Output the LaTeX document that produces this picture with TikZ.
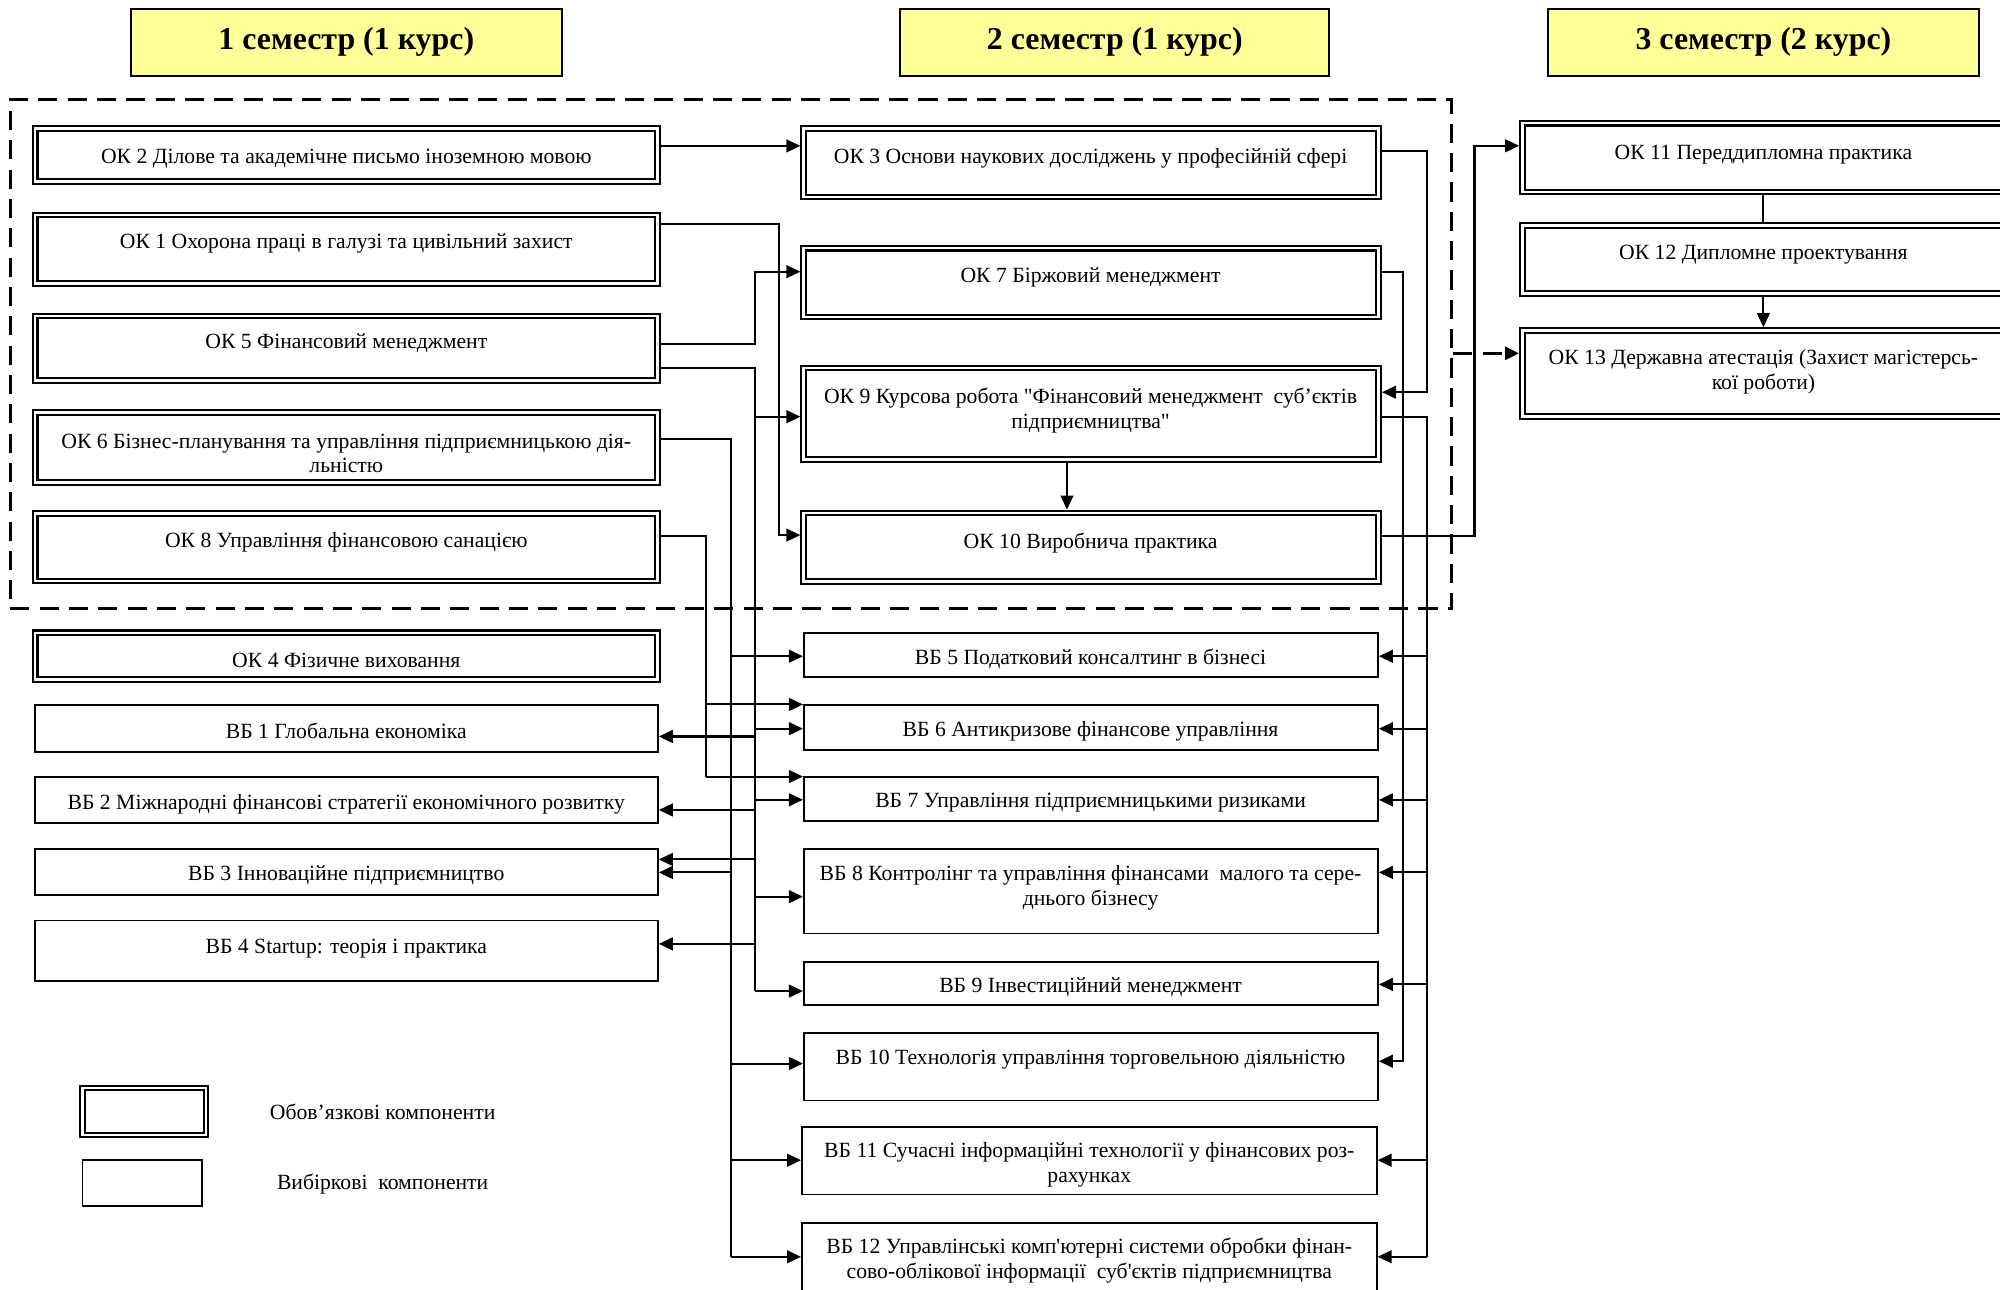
\documentclass[tikz,border=0pt]{standalone}
\usepackage{fontspec}
\setmainfont{Liberation Serif}
\newfontfamily\boxfont{Liberation Serif}
\usetikzlibrary{arrows.meta,calc}
\definecolor{hdrfill}{HTML}{FFFF99}
\tikzset{
  okbox/.style={draw, double, double distance=2pt, line width=1.6pt, outer sep=2.6pt, inner sep=0pt, fill=white},
  vbbox/.style={draw, line width=1.4pt, inner sep=0pt, fill=white},
  hdr/.style={draw, line width=1.5pt, fill=hdrfill, inner sep=0pt, font=\boxfont\fontsize{25}{30}\selectfont\bfseries},
  txt/.style={inner sep=0pt, align=center, yshift=-2pt, font=\boxfont\fontsize{17}{19.5}\selectfont},
  conn/.style={line width=1.6pt},
  arr/.style={conn, -{Triangle[length=11pt,width=10pt]}},
  dashln/.style={line width=2.6pt, dash pattern=on 15pt off 8pt},
}
\begin{document}
\begin{tikzpicture}[x=1pt,y=-1pt]
\useasboundingbox (0,0) rectangle (1568,1011);
\clip (0,0) rectangle (1568,1011);
\fill[white] (0,0) rectangle (1568,1011);

% headers
\node[hdr, minimum width=337.5pt, minimum height=52.5pt] (h1) at (271.5,33) {1 семестр (1 курс)};
\node[hdr, minimum width=336.5pt, minimum height=52.5pt] (h2) at (874,33) {2 семестр (1 курс)};
\node[hdr, minimum width=337.5pt, minimum height=52.5pt] (h3) at (1382.5,33) {3 семестр (2 курс)};

% dashed frame
\node[draw, dashln, inner sep=0pt, minimum width=1130pt, minimum height=399pt] (frame) at (573,277.5) {};

% left column, mandatory
\node[okbox, minimum width=487.8pt, minimum height=41.8pt] (ok2) at (271.5,121.5) {};
\node[okbox, minimum width=487.8pt, minimum height=53.8pt] (ok1) at (271.5,195.5) {};
\node[okbox, minimum width=487.8pt, minimum height=50.8pt] (ok5) at (271.5,273) {};
\node[okbox, minimum width=487.8pt, minimum height=54.8pt] (ok6) at (271.5,351) {};
\node[okbox, minimum width=487.8pt, minimum height=52.8pt] (ok8) at (271.5,429) {};
\node[okbox, minimum width=487.8pt, minimum height=36.8pt] (ok4) at (271.5,514.5) {};
\node[txt] (ok2t) at (271.5,122) {ОК 2 Ділове та академічне письмо іноземною мовою};
\node[txt] (ok1t) at (271.5,189) {ОК 1 Охорона праці в галузі та цивільний захист};
\node[txt] (ok5t) at (271.5,267) {ОК 5 Фінансовий менеджмент};
\node[txt] (ok6t) at (271.5,353.5) {ОК 6 Бізнес-планування та управління підприємницькою дія-\\льністю};
\node[txt] (ok8t) at (271.5,423) {ОК 8 Управління фінансовою санацією};
\node[txt] (ok4t) at (271.5,516) {ОК 4 Фізичне виховання};

% left column, elective
\node[vbbox, minimum width=488.1pt, minimum height=36.5pt] (vb1) at (271.75,571.15) {};
\node[vbbox, minimum width=488.1pt, minimum height=36.4pt] (vb2) at (271.75,627.3) {};
\node[vbbox, minimum width=488.1pt, minimum height=36.1pt] (vb3) at (271.75,683.75) {};
\node[vbbox, minimum width=488.1pt, minimum height=47.6pt] (vb4) at (271.75,745.5) {};
\node[txt] (vb1t) at (271.5,571) {ВБ 1 Глобальна економіка};
\node[txt] (vb2t) at (271.5,628.5) {ВБ 2 Міжнародні фінансові стратегії економічного розвитку};
\node[txt] (vb3t) at (271.5,684.5) {ВБ 3 Інноваційне підприємництво};
\node[txt] (vb4t) at (271.5,741.5) {ВБ 4 Startup: теорія і практика};

% middle column, mandatory
\node[okbox, minimum width=450.8pt, minimum height=53.8pt] (ok3) at (855.5,127.5) {};
\node[okbox, minimum width=450.8pt, minimum height=53.8pt] (ok7) at (855.5,221.5) {};
\node[okbox, minimum width=450.8pt, minimum height=71.8pt] (ok9) at (855.5,324.5) {};
\node[okbox, minimum width=450.8pt, minimum height=53.8pt] (ok10) at (855.5,429) {};
\node[txt] (ok3t) at (855,122.3) {ОК 3 Основи наукових досліджень у професійній сфері};
\node[txt] (ok7t) at (855,215.5) {ОК 7 Біржовий менеджмент};
\node[txt] (ok9t) at (855,320) {ОК 9 Курсова робота "Фінансовий менеджмент\ \ суб’єктів\\підприємництва"};
\node[txt] (ok10t) at (855,423.4) {ОК 10 Виробнича практика};

% middle column, elective
\node[vbbox, minimum width=450.1pt, minimum height=34.6pt] (vb5) at (855.25,513.5) {};
\node[vbbox, minimum width=450.1pt, minimum height=35.1pt] (vb6) at (855.25,570.25) {};
\node[vbbox, minimum width=450.1pt, minimum height=34.6pt] (vb7) at (855.25,626.5) {};
\node[vbbox, minimum width=450.1pt, minimum height=66.1pt] (vb8) at (855.25,698.75) {};
\node[vbbox, minimum width=450.1pt, minimum height=33.6pt] (vb9) at (855.25,771) {};
\node[vbbox, minimum width=450.1pt, minimum height=53.1pt] (vb10) at (855.25,836.25) {};
\node[vbbox, minimum width=450.6pt, minimum height=53.1pt] (vb11) at (854,909.95) {};
\node[vbbox, minimum width=450.6pt, minimum height=75.6pt] (vb12) at (854,996.5) {};
\node[txt] (vb5t) at (855,514.5) {ВБ 5 Податковий консалтинг в бізнесі};
\node[txt] (vb6t) at (855,571.3) {ВБ 6 Антикризове фінансове управління};
\node[txt] (vb7t) at (855,627.1) {ВБ 7 Управління підприємницькими ризиками};
\node[txt] (vb8t) at (855,694.3) {ВБ 8 Контролінг та управління фінансами\ \ малого та сере-\\днього бізнесу};
\node[txt] (vb9t) at (855,771.8) {ВБ 9 Інвестиційний менеджмент};
\node[txt] (vb10t) at (855,828.7) {ВБ 10 Технологія управління торговельною діяльністю};
\node[txt] (vb11t) at (854,911.2) {ВБ 11 Сучасні інформаційні технології у фінансових роз-\\рахунках};
\node[txt] (vb12t) at (854,986.3) {ВБ 12 Управлінські комп'ютерні системи обробки фінан-\\сово-облікової інформації\ \ суб'єктів підприємництва};

% right column
\node[okbox, minimum width=377.8pt, minimum height=53.8pt] (ok11) at (1382.5,123.5) {};
\node[okbox, minimum width=377.8pt, minimum height=53.3pt] (ok12) at (1382.5,203.25) {};
\node[okbox, minimum width=377.8pt, minimum height=67.3pt] (ok13) at (1382.5,292.75) {};
\node[txt] (ok11t) at (1382.5,118.9) {ОК 11 Переддипломна практика};
\node[txt] (ok12t) at (1382.5,197.3) {ОК 12 Дипломне проектування};
\node[txt] (ok13t) at (1382.5,289.4) {ОК 13 Державна атестація (Захист магістерсь-\\кої роботи)};

% legend
\node[okbox, minimum width=96.8pt, minimum height=36.8pt] (legok) at (113,871.5) {};
\node[txt] (legokt) at (300,869.8) {Обов’язкові компоненти};
\node[vbbox, minimum width=93.6pt, minimum height=35.6pt] (legvb) at (111.5,927.5) {};
\node[txt] (legvbt) at (300,926.3) {Вибіркові\ \ компоненти};

% bus x positions
\coordinate (x8) at (553.5,0);
\coordinate (x6) at (572.8,0);
\coordinate (x5) at (591.6,0);
\coordinate (x1) at (610.8,0);
\coordinate (x7) at (1099.6,0);
\coordinate (x9) at (1118.4,0);
\coordinate (x10) at (1156,0);

% connectors in mandatory block
\draw[arr] (ok2.east |- 0,114.4) -- (ok3.west |- 0,114.4);
\draw[arr] (ok3.east |- 0,118.4) -| (x9 |- 0,307.5) -- (ok9.east |- 0,307.5);
\draw[arr] (ok1.east |- 0,175.6) -| (x1 |- 0,419.5) -- (ok10.west |- 0,419.5);
\draw[arr] (ok5.east |- 0,269.7) -| (x5 |- 0,213) -- (ok7.west |- 0,213);
\draw[arr] (ok9.south -| 836.5,0) -- (ok10.north -| 836.5,0);

% OK5 bus
\draw[conn] (ok5.east |- 0,288.6) -| (x5 |- 0,777);
\draw[arr] (x5 |- 0,326.7) -- (ok9.west |- 0,326.7);
\draw[arr] (x5 |- 0,571.3) -- (vb6.west |- 0,571.3);
\draw[arr] (x5 |- 0,577.4) -- (vb1.east |- 0,577.4);
\draw[arr] (x5 |- 0,627) -- (vb7.west |- 0,627);
\draw[arr] (x5 |- 0,635) -- (vb2.east |- 0,635);
\draw[arr] (x5 |- 0,673.8) -- (vb3.east |- 0,673.8);
\draw[arr] (x5 |- 0,703) -- (vb8.west |- 0,703);
\draw[arr] (x5 |- 0,740) -- (vb4.east |- 0,740);
\draw[arr] (x5 |- 0,777) -- (vb9.west |- 0,777);

% OK6 bus
\draw[conn] (ok6.east |- 0,344) -| (x6 |- 0,985.3);
\draw[arr] (x6 |- 0,514.5) -- (vb5.west |- 0,514.5);
\draw[arr] (x6 |- 0,684) -- (vb3.east |- 0,684);
\draw[arr] (x6 |- 0,833.8) -- (vb10.west |- 0,833.8);
\draw[arr] (x6 |- 0,909.6) -- (vb11.west |- 0,909.6);
\draw[arr] (x6 |- 0,985.3) -- (vb12.west |- 0,985.3);

% OK8 bus
\draw[conn] (ok8.east |- 0,420) -| (x8 |- 0,608.8);
\draw[arr] (x8 |- 0,552.3) -- (vb6.west |- 0,552.3);
\draw[arr] (x8 |- 0,608.8) -- (vb7.west |- 0,608.8);

% OK7 bus
\draw[arr] (ok7.east |- 0,213) -| (x7 |- 0,832) -- (vb10.east |- 0,832);

% OK9 bus
\draw[conn] (ok9.east |- 0,326.7) -| (x9 |- 0,985.3);
\draw[arr] (x9 |- 0,514.5) -- (vb5.east |- 0,514.5);
\draw[arr] (x9 |- 0,571.3) -- (vb6.east |- 0,571.3);
\draw[arr] (x9 |- 0,627.1) -- (vb7.east |- 0,627.1);
\draw[arr] (x9 |- 0,684) -- (vb8.east |- 0,684);
\draw[arr] (x9 |- 0,771.8) -- (vb9.east |- 0,771.8);
\draw[arr] (x9 |- 0,909.6) -- (vb11.east |- 0,909.6);
\draw[arr] (x9 |- 0,985.3) -- (vb12.east |- 0,985.3);

% to third semester
\draw[arr] (ok10.east |- 0,420) -| (x10 |- 0,114.3) -- (ok11.west |- 0,114.3);
\draw[conn] (ok11.south) -- (ok12.north);
\draw[arr] (ok12.south) -- (ok13.north);
\draw[arr, dashln] (frame.east |- 0,277) -- (ok13.west |- 0,277);
\end{tikzpicture}
\end{document}
